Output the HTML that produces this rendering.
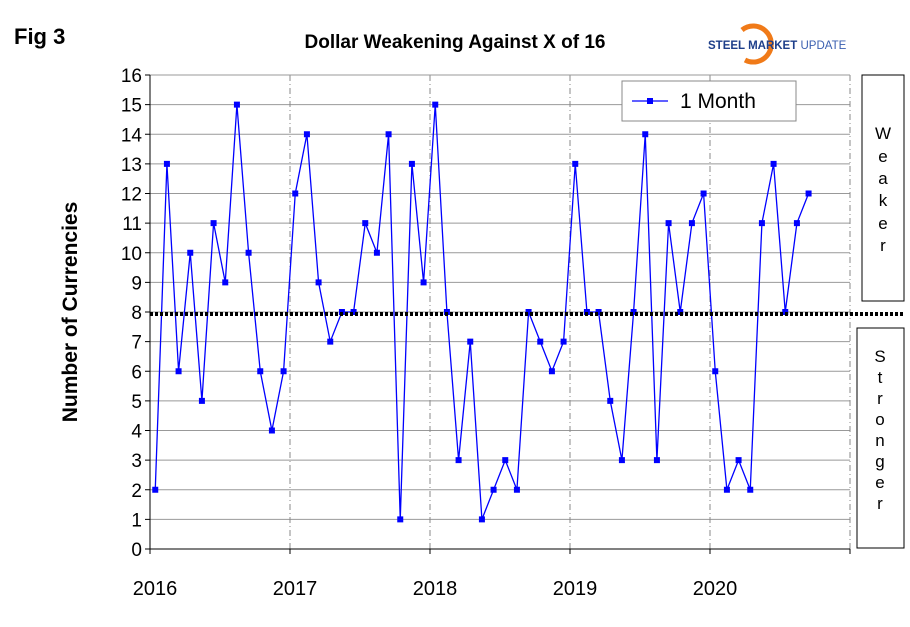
<!DOCTYPE html>
<html><head><meta charset="utf-8"><style>
body{margin:0;background:#fff;font-family:"Liberation Sans",Arial,sans-serif}
</style></head><body>
<svg width="910" height="622" xmlns="http://www.w3.org/2000/svg" id="chart" font-family="Liberation Sans, Arial, sans-serif">
<text x="14" y="44" font-size="22" font-weight="bold">Fig 3</text>
<text x="455" y="48" font-size="19" font-weight="bold" text-anchor="middle">Dollar Weakening Against X of 16</text>
<g>
<path d="M742,30 A18,18 0 1 1 745,60" fill="none" stroke="#f07a18" stroke-width="5"/>
<text x="708" y="49" font-size="11.5" font-weight="bold" fill="#1e3f8a">STEEL <tspan fill="#1e3f8a">MARKET</tspan> <tspan font-weight="normal" fill="#3a5fb0">UPDATE</tspan></text>
</g>
<text transform="translate(77,312) rotate(-90)" font-size="21" font-weight="bold" text-anchor="middle">Number of Currencies</text>
<g id="grid"></g><g id="axes"></g><g id="series"></g>
<line x1="150" y1="314" x2="905" y2="314" stroke="#000" stroke-width="4" stroke-dasharray="3,2"/>
<g>
<rect x="622" y="81" width="174" height="40" fill="#fff" stroke="#888"/>
<line x1="632" y1="101" x2="668" y2="101" stroke="#00f" stroke-width="1.3"/>
<rect x="647" y="98" width="6" height="6" fill="#00f"/>
<text x="680" y="108" font-size="21">1 Month</text>
</g>
<g>
<rect x="862" y="75" width="42" height="226" fill="#fff" stroke="#000"/>
<text x="883" font-size="17" text-anchor="middle"><tspan x="883" y="139">W</tspan><tspan x="883" y="162">e</tspan><tspan x="883" y="184">a</tspan><tspan x="883" y="206">k</tspan><tspan x="883" y="229">e</tspan><tspan x="883" y="251">r</tspan></text>
</g>
<g>
<rect x="857" y="328" width="47" height="220" fill="#fff" stroke="#000"/>
<text font-size="17" text-anchor="middle"><tspan x="880" y="362">S</tspan><tspan x="880" y="383">t</tspan><tspan x="880" y="404">r</tspan><tspan x="880" y="425">o</tspan><tspan x="880" y="446">n</tspan><tspan x="880" y="467">g</tspan><tspan x="880" y="488">e</tspan><tspan x="880" y="509">r</tspan></text>
</g>
</svg>
<script>
const yTicks=[0,1,2,3,4,5,6,7,8,9,10,11,12,13,14,15,16];
const yearLabels=["2016","2017","2018","2019","2020","2021"];
const values=[2,13,6,10,5,11,9,15,10,6,4,6,12,14,9,7,8,8,11,10,14,1,13,9,15,8,3,7,1,2,3,2,8,7,6,7,13,8,8,5,3,8,14,3,11,8,11,12,6,2,3,2,11,13,8,11,12];
const NS="http://www.w3.org/2000/svg";
const x0=150,x1=850,y0=549,y1=75;
const xs=m=>x0+(m+0.45)*(x1-x0)/60;
const xy=yr=>x0+yr*(x1-x0)/5;
const ys=v=>y0-v*(y0-y1)/16;
function mk(t,a,p){const e=document.createElementNS(NS,t);for(const k in a)e.setAttribute(k,a[k]);p.appendChild(e);return e;}
const grid=document.getElementById('grid'),axes=document.getElementById('axes'),ser=document.getElementById('series');
yTicks.forEach(v=>{
 if(v>0){const l=mk('line',{x1:x0,x2:x1,y1:ys(v),y2:ys(v),stroke:'#999','stroke-width':1},grid);
 
 }
 mk('line',{x1:x0-5,x2:x0,y1:ys(v),y2:ys(v),stroke:'#000'},axes);
 const t=mk('text',{x:x0-8,y:ys(v)+7,'font-size':19,'text-anchor':'end'},axes);t.textContent=v;
 
 
});
yearLabels.forEach((s,i)=>{
 const x=xy(i);
 if(i>0){const l=mk('line',{x1:x,x2:x,y1:y1,y2:y0,stroke:'#888','stroke-dasharray':'6,3,1,3'},grid);
 
 }
 mk('line',{x1:x,x2:x,y1:y0,y2:y0+5,stroke:'#000'},axes);
 if(i<5){const t=mk('text',{x:x+5,y:595,'font-size':20,'text-anchor':'middle'},axes);t.textContent=s;
 
 }
});
mk('line',{x1:x0,x2:x0,y1:y1,y2:y0,stroke:'#000'},axes);
mk('line',{x1:x0,x2:x1,y1:y0,y2:y0,stroke:'#000'},axes);
mk('line',{x1:x0,x2:x1,y1:y1,y2:y1,stroke:'#999'},grid);
const pl=mk('polyline',{points:values.map((v,i)=>xs(i)+','+ys(v)).join(' '),fill:'none',stroke:'#00f','stroke-width':1.3},ser);


values.forEach((v,i)=>{const r=mk('rect',{x:xs(i)-3,y:ys(v)-3,width:6,height:6,fill:'#00f'},ser);
 
 });
</script>
</body></html>
